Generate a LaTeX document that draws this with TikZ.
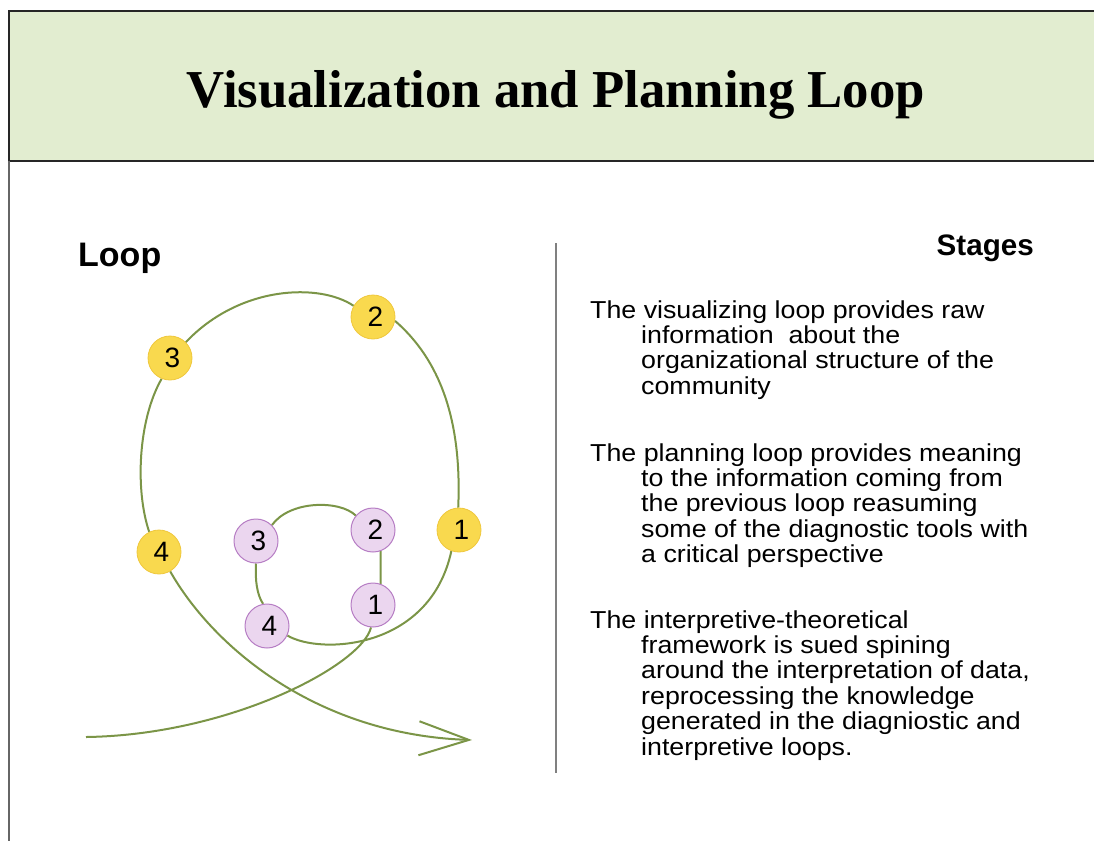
\documentclass[tikz,border=0pt]{standalone}
\usepackage{fontspec}
\setmainfont{Liberation Sans}
\newfontfamily\titlefont{Liberation Serif}
\newfontfamily\bodyfont[FakeStretch=1.093]{Liberation Sans}
\usetikzlibrary{arrows.meta}
\pgfdeclarelayer{background}
\pgfsetlayers{background,main}
\definecolor{headergreen}{HTML}{E2EDD0}
\definecolor{loopgreen}{HTML}{7B9547}
\definecolor{sunfill}{HTML}{F9D94E}
\definecolor{sunline}{HTML}{EFC73C}
\definecolor{lilacfill}{HTML}{EBD6EF}
\definecolor{lilacline}{HTML}{B67DC4}
\tikzset{
  outerstage/.style={circle, minimum size=44pt, inner sep=0pt, fill=sunfill, draw=sunline, line width=0.8pt,
    font=\fontsize{28pt}{28pt}\selectfont, execute at begin node=\hspace*{5pt}},
  innerstage/.style={circle, minimum size=44pt, inner sep=0pt, fill=lilacfill, draw=lilacline, line width=1pt,
    font=\fontsize{28pt}{28pt}\selectfont, execute at begin node=\hspace*{5pt}},
  loopline/.style={draw=loopgreen, line width=2pt},
  paragraph/.style={anchor=base west, inner sep=0pt},
}
\newcommand{\stagetext}[1]{\parbox[t]{470pt}{\bodyfont\fontsize{24.5pt}{25.4pt}\selectfont
  \hangindent=51pt\hangafter=1 #1}}
\begin{document}
\begin{tikzpicture}[x=1pt,y=-1pt]
\useasboundingbox (0,0) rectangle (1094,841);

% header band
\fill[headergreen] (9,11) rectangle (1094,161);
\draw[black!85, line width=2pt] (1094,11) -- (9,11) -- (9,161) -- (1094,161);
\draw[black!60, line width=2pt] (9,161) -- (9,841);
\node[anchor=base, inner sep=0pt] (title) at (556,107)
  {\resizebox{738pt}{37pt}{\titlefont\bfseries Visualization and Planning Loop}};

% column divider
\draw[black!50, line width=2pt] (556,243) -- (556,773);

% headings
\node[anchor=base west, inner sep=0pt, font=\bfseries\fontsize{34pt}{34pt}\selectfont] (loophead) at (78,266) {Loop};
\node[anchor=base east, inner sep=0pt, font=\bfseries\fontsize{29.6pt}{30pt}\selectfont] (stagehead) at (1034,255) {Stages};

% stage descriptions
\node[paragraph] (visual) at (590,318) {\stagetext{The visualizing loop provides raw\newline
  information\ \ about the\newline organizational structure of the\newline community}};
\node[paragraph] (planning) at (590,461) {\stagetext{The planning loop provides meaning\newline
  to the information coming from\newline the previous loop reasuming\newline
  some of the diagnostic tools with\newline a critical perspective}};
\node[paragraph] (interp) at (590,628) {\stagetext{The interpretive-theoretical\newline
  framework is sued spining\newline around the interpretation of data,\newline
  reprocessing the knowledge\newline generated in the diagniostic and\newline interpretive loops.}};

% stage markers
\node[outerstage] (Y1) at (459,530) {1};
\node[outerstage] (Y2) at (373,317) {2};
\node[outerstage] (Y3) at (170,358) {3};
\node[outerstage] (Y4) at (159,552) {4};
\node[innerstage] (P1) at (373,605) {1};
\node[innerstage] (P2) at (373,530) {2};
\node[innerstage] (P3) at (256,541) {3};
\node[innerstage] (P4) at (267,626) {4};
\coordinate (start) at (86,737);
\coordinate (finish) at (472,740);

% the spiral running through the markers
\begin{pgfonlayer}{background}
\draw[loopline, -{Straight Barb[length=50pt,width=34pt]}]
  (start) .. controls (230,735) and (362,665) .. (P1.-95)
  (P1.70) -- (P2.-70)
  (P2.140) .. controls (340,500) and (290,500) .. (P3.45)
  (P3.-90) .. controls (255,580) and (257,595) .. (P4.100)
  (P4.-25) .. controls (320,655) and (430,650) .. (Y1.-110)
  (Y1.92) .. controls (462,420) and (440,360) .. (Y2.-10)
  (Y2.150) .. controls (320,283) and (240,285) .. (Y3.45)
  (Y3.-112) .. controls (138,420) and (135,490) .. (Y4.116)
  (Y4.-60) .. controls (215,650) and (320,735) .. (finish);
\end{pgfonlayer}
\end{tikzpicture}
\end{document}
